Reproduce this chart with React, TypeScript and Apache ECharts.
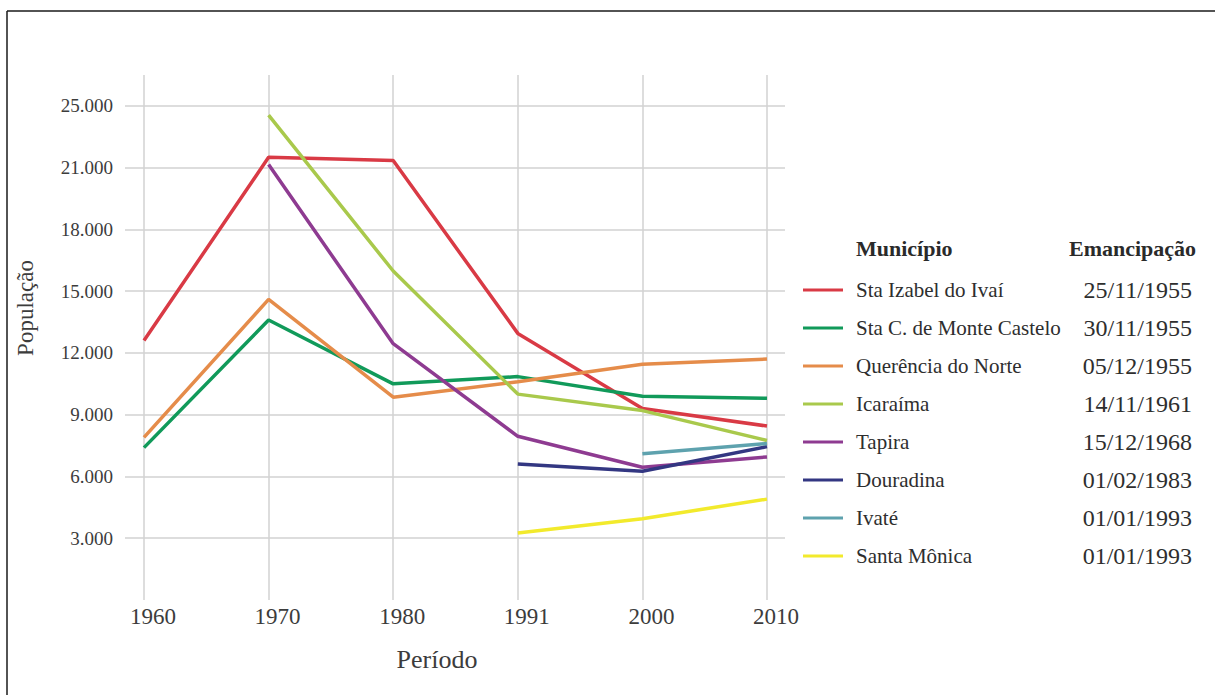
import React, { useEffect, useRef } from "react";
import * as echarts from "echarts";

const years = ["1960", "1970", "1980", "1991", "2000", "2010"];
const yTickLabels = ["3.000", "6.000", "9.000", "12.000", "15.000", "18.000", "21.000", "25.000"];

const names = [
  "Sta Izabel do Ivaí",
  "Sta C. de Monte Castelo",
  "Querência do Norte",
  "Icaraíma",
  "Tapira",
  "Douradina",
  "Ivaté",
  "Santa Mônica",
];
const emancipacao = [
  "25/11/1955",
  "30/11/1955",
  "05/12/1955",
  "14/11/1961",
  "15/12/1968",
  "01/02/1983",
  "01/01/1993",
  "01/01/1993",
];
const colors = ["#d93a45", "#119a5a", "#e58c4a", "#a9c94c", "#8e3b91", "#333782", "#5ea2ae", "#f2ea2c"];

const staIzabel = [12600, 21500, 21350, 12950, 9300, 8450];
const staCruz = [7400, 13600, 10500, 10850, 9900, 9800];
const querencia = [7900, 14600, 9850, 10600, 11450, 11700];
const icaraima = [null, 23550, 15980, 10000, 9200, 7750];
const tapira = [null, 21150, 12450, 7950, 6450, 6950];
const douradina = [null, null, null, 6600, 6250, 7450];
const ivate = [null, null, null, null, 7100, 7600];
const santaMonica = [null, null, null, 3250, 3950, 4900];

const seriesData = [staIzabel, staCruz, querencia, icaraima, tapira, douradina, ivate, santaMonica];

const FONT = '"Liberation Serif", "Times New Roman", serif';

export default function App() {
  const ref = useRef<HTMLDivElement>(null);

  useEffect(() => {
    document.body.style.margin = "0";
    const chart = echarts.init(ref.current!, null, { renderer: "svg" });

    const bTop = 75;
    const bHeight = 525;
    const bMax = 25500;
    const pxPer = bHeight / bMax;
    const aTop = bTop + (bMax - 24000) * pxPer;
    const aHeight = (24000 - 3000) * pxPer;

    const option: any = {
      animation: false,
      backgroundColor: "#ffffff",
      grid: [
        { left: 125, top: aTop, width: 660, height: aHeight },
        { left: 144, top: bTop, width: 623, height: bHeight },
      ],
      xAxis: [
        { type: "value", gridIndex: 0, min: 0, max: 1, show: false },
        {
          type: "category",
          gridIndex: 1,
          data: years,
          boundaryGap: false,
          axisLine: { show: false },
          axisTick: { show: false },
          splitLine: { show: true, lineStyle: { color: "#d2d2d2", width: 1.5 } },
          axisLabel: {
            fontFamily: FONT,
            fontSize: 23,
            color: "#3c3c3c",
            margin: 5,
            padding: [0, 0, 0, 18],
          },
        },
      ],
      yAxis: [
        {
          type: "value",
          gridIndex: 0,
          min: 3000,
          max: 24000,
          interval: 3000,
          axisLine: { show: false },
          axisTick: { show: false },
          splitLine: { show: true, lineStyle: { color: "#d2d2d2", width: 1.5 } },
          axisLabel: {
            fontFamily: FONT,
            fontSize: 19,
            color: "#3c3c3c",
            margin: 12,
            formatter: (v: number) => yTickLabels[Math.round((v - 3000) / 3000)] ?? "",
          },
        },
        { type: "value", gridIndex: 1, min: 0, max: bMax, show: false },
      ],
      legend: {
        orient: "vertical",
        left: 803,
        top: 278,
        padding: 0,
        icon: "rect",
        itemWidth: 40,
        itemHeight: 3,
        itemGap: 14,
        data: names,
        selectedMode: false,
        formatter: (name: string) => {
          const i = names.indexOf(name);
          return `{n|${name}}{d|${emancipacao[i]}}`;
        },
        textStyle: {
          fontFamily: FONT,
          color: "#2e2e2e",
          rich: {
            n: { fontFamily: FONT, fontSize: 21, color: "#2e2e2e", width: 220, padding: [0, 0, 0, 8], lineHeight: 24 },
            d: { fontFamily: FONT, fontSize: 24, color: "#2e2e2e", width: 116, align: "right", lineHeight: 24 },
          },
        },
      },
      graphic: [
        { type: "line", shape: { x1: 7, y1: 11, x2: 1215, y2: 11 }, style: { stroke: "#1a1a1a", lineWidth: 1.5 } },
        { type: "line", shape: { x1: 7, y1: 11, x2: 7, y2: 695 }, style: { stroke: "#1a1a1a", lineWidth: 1.5 } },
        {
          type: "text",
          x: 856,
          y: 248,
          style: { text: "Município", font: `bold 22px ${FONT}`, fill: "#2a2a2a", verticalAlign: "middle", align: "left" },
        },
        {
          type: "text",
          x: 1069,
          y: 248,
          style: { text: "Emancipação", font: `bold 22px ${FONT}`, fill: "#2a2a2a", verticalAlign: "middle", align: "left" },
        },
        {
          type: "text",
          x: 437,
          y: 659,
          style: { text: "Período", font: `26px ${FONT}`, fill: "#3c3c3c", verticalAlign: "middle", align: "center" },
        },
        {
          type: "text",
          x: 25,
          y: 308,
          rotation: Math.PI / 2,
          style: { text: "População", font: `23px ${FONT}`, fill: "#3c3c3c", verticalAlign: "middle", align: "center" },
        },
      ],
      series: seriesData.map((d, i) => ({
        name: names[i],
        type: "line",
        xAxisIndex: 1,
        yAxisIndex: 1,
        data: d,
        symbol: "none",
        showSymbol: false,
        connectNulls: false,
        lineStyle: { color: colors[i], width: 3.5 },
        itemStyle: { color: colors[i] },
      })),
    };

    chart.setOption(option);
    return () => chart.dispose();
  }, []);

  return <div ref={ref} style={{ width: 1215, height: 695 }} />;
}
